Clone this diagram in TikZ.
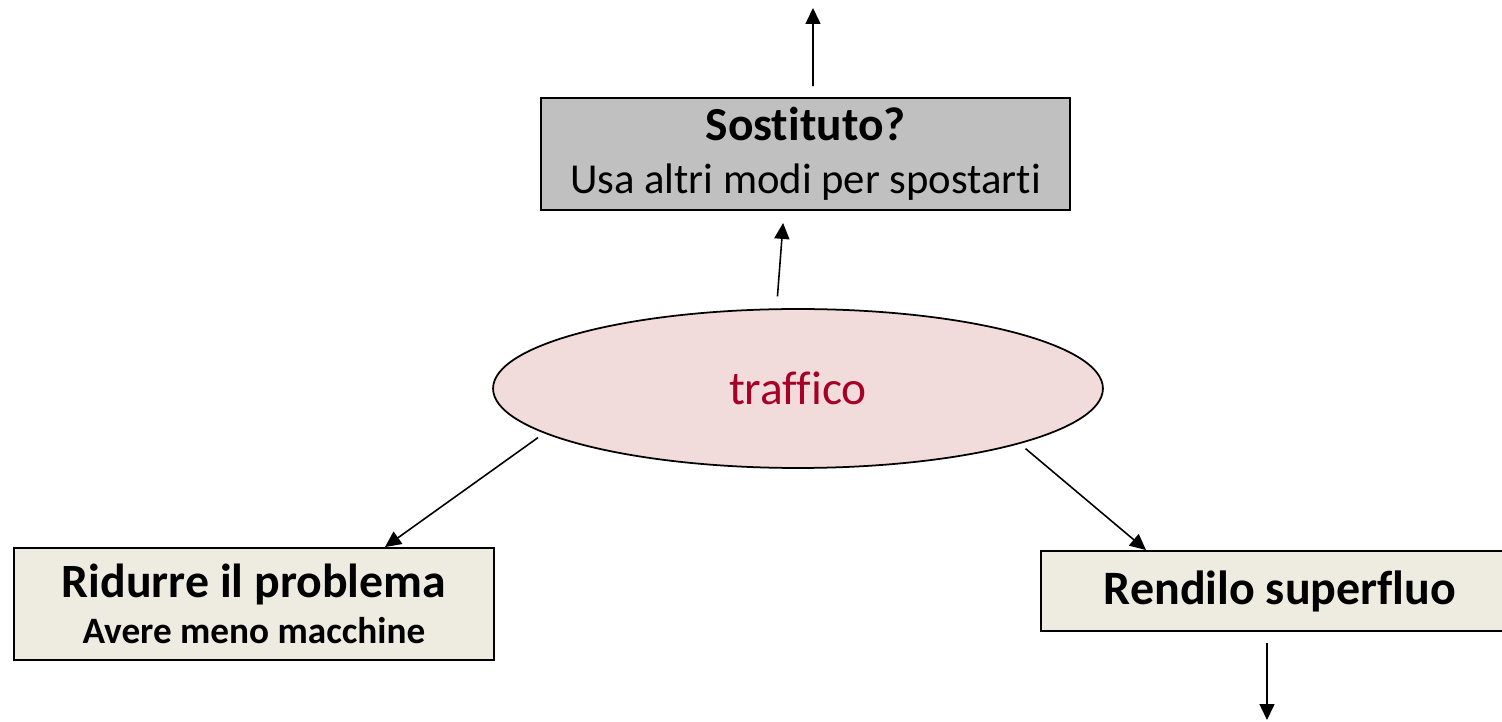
\documentclass[tikz,border=0pt]{standalone}
\usepackage{fontspec}
\setmainfont[Ligatures=NoCommon]{Carlito}
\usetikzlibrary{shapes.geometric,calc,arrows.meta}
\definecolor{substGray}{RGB}{192,192,192}
\definecolor{answerBeige}{RGB}{238,236,225}
\definecolor{hubPink}{RGB}{242,220,219}
\definecolor{hubRed}{RGB}{166,0,38}

\begin{document}
\begin{tikzpicture}[x=0.02cm,y=-0.02cm,
    answer/.style={draw=black,line width=1.1pt,align=center,inner sep=0pt},
    hub/.style={ellipse,draw=black,line width=1pt,fill=hubPink,text=hubRed,
                minimum width=12.2cm,minimum height=3.18cm,inner sep=0pt},
    arr/.style={-{Triangle[length=0.32cm,width=0.3cm]},line width=0.9pt}
]
\useasboundingbox (0,0) rectangle (1502,722);

\node[answer,fill=substGray,minimum width=10.58cm,minimum height=2.24cm,
      font=\fontsize{24.3}{30}\selectfont] (subst) at (805.5,154) {
    {\fontsize{27}{30}\selectfont\bfseries Sostituto?}\\
    Usa altri modi per spostarti
};
\node[hub,font=\fontsize{27}{30}\selectfont] (traffico) at (798,388.5) {traffico};
\node[answer,fill=answerBeige,minimum width=9.6cm,minimum height=2.24cm,
      font=\fontsize{21.2}{26.6}\selectfont\bfseries] (reduce) at (254,604) {
    {\fontsize{27.2}{26.6}\selectfont Ridurre il problema}\\
    Avere meno macchine
};
% box runs past the right edge of the page
\node[answer,fill=answerBeige,minimum width=9.56cm,minimum height=1.6cm,
      font=\fontsize{27.3}{30}\selectfont\bfseries] (superfluo) at (1280,591) {Rendilo superfluo};

\coordinate (topend) at (813,8);
\coordinate (botend) at (1267,720);

% connectors
\draw[arr,shorten <=0.22cm] ($(subst.north)+(7.5,0)$) -- (topend);
\draw[arr,shorten <=0.24cm,shorten >=0.24cm] (traffico.105) -- ($(subst.south)+(-21.5,0)$);
\draw[arr,shorten <=0.15cm] (traffico.190) -- ($(reduce.north)+(131,0)$);
\draw[arr,shorten <=0.15cm] (traffico.346) -- ($(superfluo.north)+(-134,0)$);
\draw[arr,shorten <=0.22cm] ($(superfluo.south)+(-13,0)$) -- (botend);
\end{tikzpicture}
\end{document}
